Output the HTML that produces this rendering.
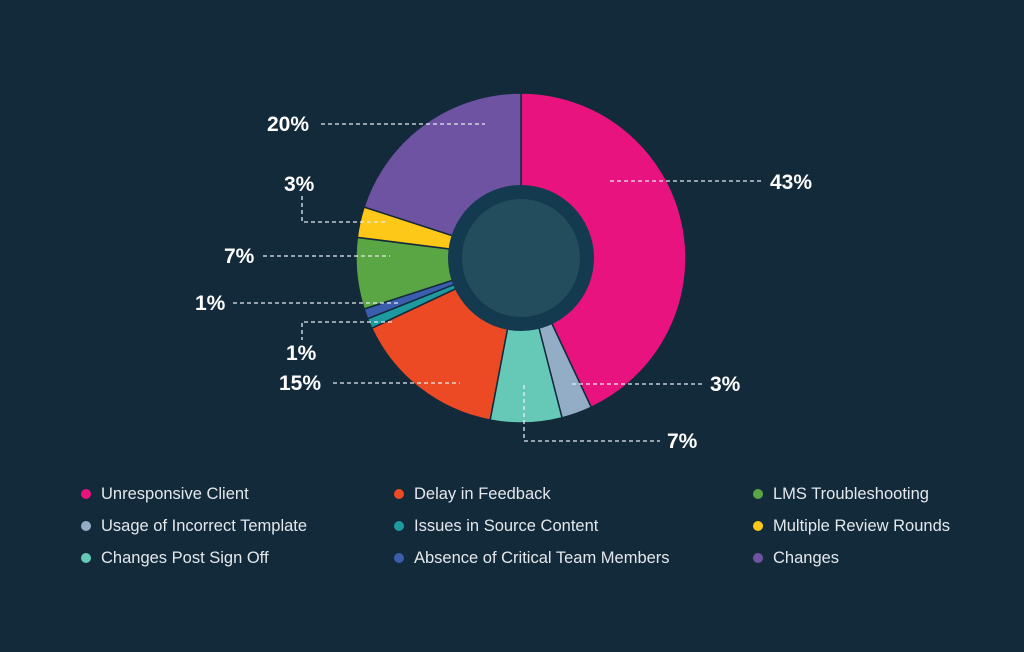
<!DOCTYPE html>
<html><head><meta charset="utf-8"><style>
body{margin:0;background:#132a3b;width:1024px;height:652px;overflow:hidden;font-family:"Liberation Sans",sans-serif}
.lg{position:absolute;color:#e3e8ec;font-size:16.5px;line-height:20px}
.lg i{position:absolute;left:-20px;top:5px;width:10px;height:10px;border-radius:50%}
</style></head><body>
<svg id="s" width="1024" height="652" style="position:absolute;left:0;top:0">
<g id="pie"></g>
<circle cx="521" cy="258" r="73" fill="#133a4e"/>
<circle cx="521" cy="258" r="59" fill="#234c5c"/>
<g stroke="#e6ecef" stroke-width="1.3" stroke-dasharray="4,3" fill="none">
<path d="M610 181H763"/>
<path d="M572 384H702"/>
<path d="M524 385V441H660"/>
<path d="M333 383H460"/>
<path d="M392 322H302V340"/>
<path d="M233 303H400"/>
<path d="M263 256H390"/>
<path d="M302 196V222H388"/>
<path d="M321 124H485"/>
</g>
<g fill="#fff" font-weight="bold" font-size="21" font-family="Liberation Sans,sans-serif">
<text x="770" y="189">43%</text>
<text x="710" y="391">3%</text>
<text x="667" y="448">7%</text>
<text x="279" y="390">15%</text>
<text x="286" y="360">1%</text>
<text x="195" y="310">1%</text>
<text x="224" y="263">7%</text>
<text x="284" y="191">3%</text>
<text x="267" y="131">20%</text>
</g>
</svg>
<script>
var d=[[43,"#e8137f"],[3,"#94adc6"],[7,"#66c9b8"],[15,"#ec4a24"],[1,"#1d9aa0"],[1,"#3a5dae"],[7,"#5aa544"],[3,"#fdc817"],[20,"#6e53a3"]];
var cx=521,cy=258,r=165,a=0,h="";
d.forEach(function(e){var a0=a/100*2*Math.PI;a+=e[0];var a1=a/100*2*Math.PI;
var x0=cx+r*Math.sin(a0),y0=cy-r*Math.cos(a0),x1=cx+r*Math.sin(a1),y1=cy-r*Math.cos(a1);
h+='<path d="M'+cx+' '+cy+'L'+x0+' '+y0+'A'+r+' '+r+' 0 '+(e[0]>50?1:0)+' 1 '+x1+' '+y1+'Z" fill="'+e[1]+'" stroke="#132a3b" stroke-width="1.5"/>';});
document.getElementById("pie").innerHTML=h;
</script>
<div class="lg" style="left:101px;top:484px"><i style="background:#e8137f"></i>Unresponsive Client</div>
<div class="lg" style="left:101px;top:516px"><i style="background:#94adc6"></i>Usage of Incorrect Template</div>
<div class="lg" style="left:101px;top:548px"><i style="background:#66c9b8"></i>Changes Post Sign Off</div>
<div class="lg" style="left:414px;top:484px"><i style="background:#ec4a24"></i>Delay in Feedback</div>
<div class="lg" style="left:414px;top:516px"><i style="background:#1d9aa0"></i>Issues in Source Content</div>
<div class="lg" style="left:414px;top:548px"><i style="background:#3a5dae"></i>Absence of Critical Team Members</div>
<div class="lg" style="left:773px;top:484px"><i style="background:#5aa544"></i>LMS Troubleshooting</div>
<div class="lg" style="left:773px;top:516px"><i style="background:#fdc817"></i>Multiple Review Rounds</div>
<div class="lg" style="left:773px;top:548px"><i style="background:#6e53a3"></i>Changes</div>
</body></html>
